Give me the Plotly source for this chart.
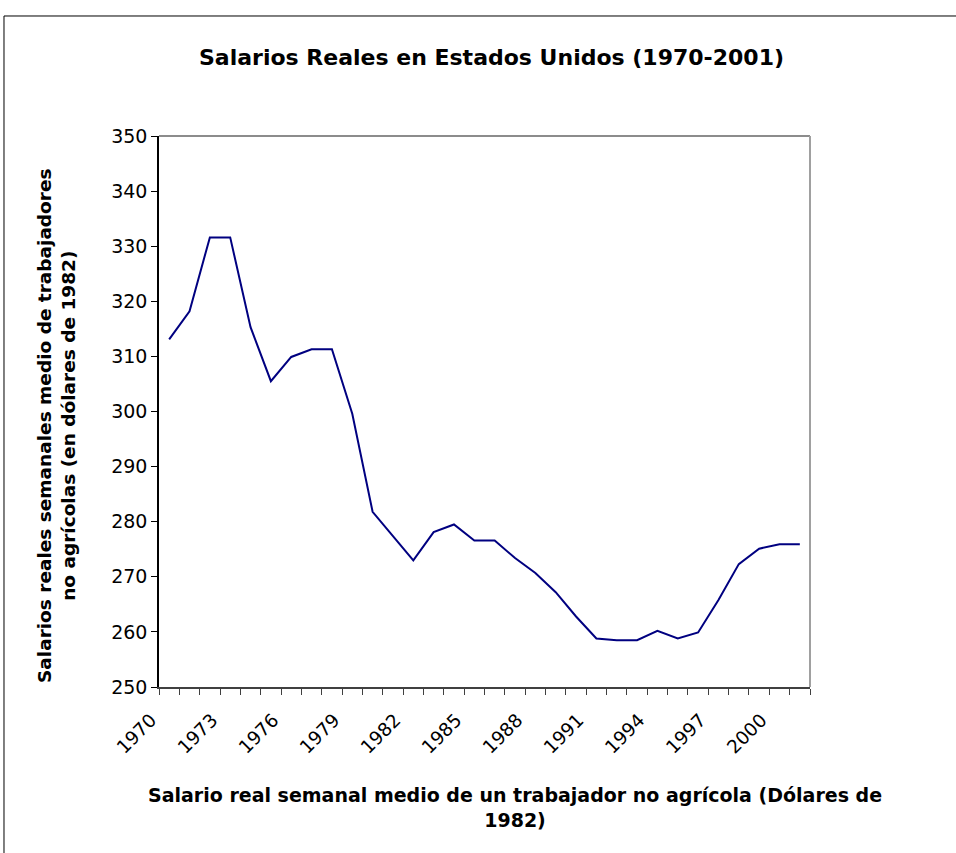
import plotly.graph_objects as go

# Average weekly real wage, non-farm workers (1982 dollars)
years = list(range(1970, 2002))
wages = [313.1, 318.2, 331.6, 331.6, 315.3, 305.5, 309.9, 311.3, 311.3, 299.6,
         281.8, 277.5, 273.0, 278.1, 279.5, 276.6, 276.6, 273.4, 270.7, 267.2,
         262.8, 258.8, 258.5, 258.5, 260.2, 258.8, 259.9, 265.8, 272.3, 275.1,
         275.9, 275.9]

label_years = list(range(1970, 2002, 3))
y_ticks = list(range(250, 351, 10))

title_text = "Salarios Reales en Estados Unidos (1970-2001)"
x_title = "Salario real semanal medio de un trabajador no agrícola (Dólares de<br>1982)"
y_title = "Salarios reales semanales medio de trabajadores<br>no agrícolas (en dólares de 1982)"

FONT = "DejaVu Sans, Arial, sans-serif"

fig = go.Figure()
fig.add_trace(go.Scatter(
    x=years, y=wages, mode="lines",
    line=dict(color="#000080", width=2),
    showlegend=False, hoverinfo="x+y",
))

fig.update_layout(
    width=956, height=853,
    margin=dict(l=159, r=146, t=136, b=166),
    paper_bgcolor="white", plot_bgcolor="white",
    font=dict(family=FONT, color="black"),
    xaxis=dict(
        range=[years[0] - 0.5, years[-1] + 0.5],
        tickmode="array", tickvals=label_years,
        ticktext=[str(y) for y in label_years],
        tickangle=-45, ticks="", ticklen=0,
        ticklabelstandoff=13, ticklabelshift=-18,
        tickfont=dict(size=18.5, family=FONT, color="black"),
        showgrid=False, zeroline=False,
        showline=True, linecolor="#404040", linewidth=2,
        minor=dict(tickmode="array",
                   tickvals=[y - 0.5 for y in years] + [years[-1] + 0.5],
                   ticks="outside", ticklen=6, tickcolor="#404040",
                   tickwidth=1, showgrid=False),
    ),
    yaxis=dict(
        range=[250, 350], tickmode="array", tickvals=y_ticks,
        ticks="outside", ticklen=6, tickcolor="black", tickwidth=1,
        tickfont=dict(size=19, family=FONT, color="black"),
        showgrid=False, zeroline=False,
        showline=True, linecolor="black", linewidth=1.5,
    ),
    shapes=[
        # plot-area frame (top and right edges)
        dict(type="line", xref="paper", yref="paper", x0=0, x1=1, y0=1, y1=1,
             line=dict(color="#8c8c8c", width=2)),
        dict(type="line", xref="paper", yref="paper", x0=1, x1=1, y0=0, y1=1,
             line=dict(color="#a0a0a0", width=2)),
        # chart-area border (left and top edges)
        dict(type="line", xref="paper", yref="paper",
             x0=-0.2381, x1=-0.2381, y0=-0.4, y1=1.2178,
             line=dict(color="black", width=1)),
        dict(type="line", xref="paper", yref="paper",
             x0=-0.2381, x1=1.3, y0=1.2178, y1=1.2178,
             line=dict(color="black", width=1)),
    ],
    annotations=[
        dict(text=f"<b>{title_text}</b>", xref="paper", yref="paper",
             x=0.5115, y=1.143, xanchor="center", yanchor="middle",
             showarrow=False, font=dict(size=22, family=FONT)),
        dict(text=f"<b>{x_title}</b>", xref="paper", yref="paper",
             x=0.547, y=-0.218, xanchor="center", yanchor="middle",
             showarrow=False, font=dict(size=19, family=FONT)),
        dict(text=f"<b>{y_title}</b>", xref="paper", yref="paper",
             x=-0.1567, y=0.4755, xanchor="center", yanchor="middle",
             textangle=-90, showarrow=False, font=dict(size=18.5, family=FONT)),
    ],
)

fig.write_html("out.html")
